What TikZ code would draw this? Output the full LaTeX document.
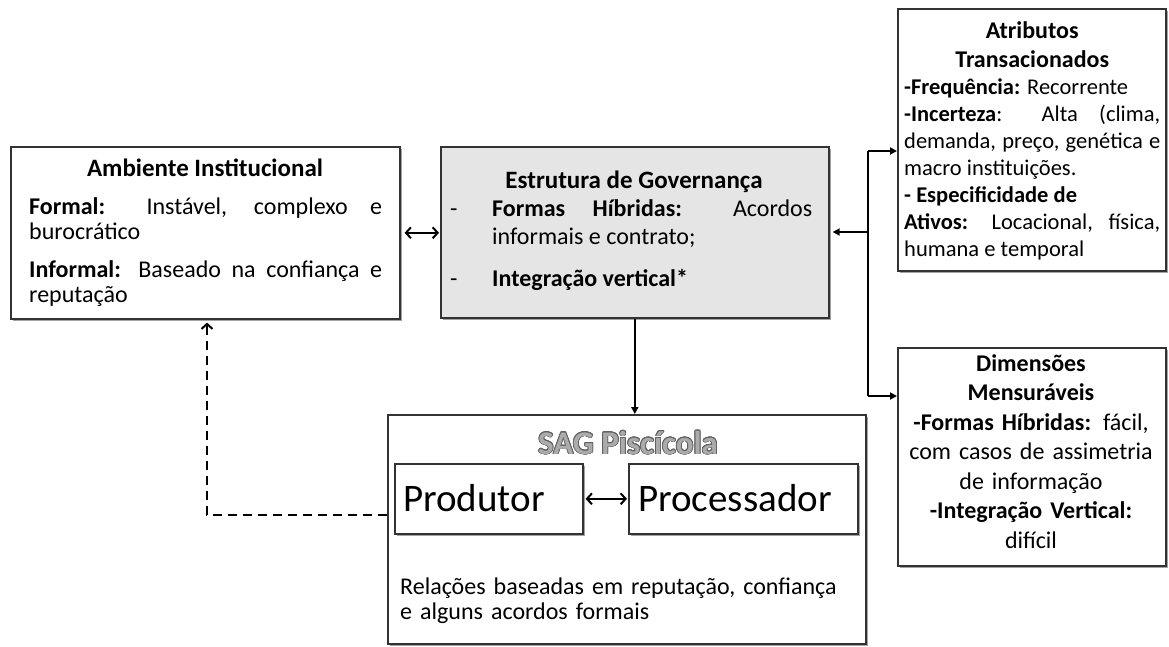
\documentclass[tikz,border=0pt]{standalone}
\usepackage{fontspec}
\setmainfont{Carlito}
\usepackage{contour}
\contourlength{0.8pt}
\contournumber{16}
\usetikzlibrary{shadows,arrows.meta}
\begin{document}
\begin{tikzpicture}[x=1pt,y=-1pt,
  box/.style={draw=black!80, line width=1.6pt, fill=white, anchor=north west, inner sep=0pt,
    drop shadow={shadow xshift=2.5pt, shadow yshift=-2.5pt, fill=black!60, opacity=0.6}},
  txt/.style={inner sep=0pt, font=\fontsize{24}{25}\selectfont},
  ttl/.style={inner sep=0pt, font=\bfseries\fontsize{25}{26}\selectfont},
  dbl/.style={line width=2pt, arrows={Straight Barb[length=5pt,width=11pt]-Straight Barb[length=5pt,width=11pt]}},
  sol/.style={line width=1.8pt, arrows={-Triangle[length=7pt,width=7pt]}},
  dsh/.style={line width=2pt, dash pattern=on 9pt off 6pt, arrows={-Straight Barb[length=5pt,width=11pt]}}
]
\useasboundingbox (0,0) rectangle (1169,646);
% boxes
\node[box, minimum width=389pt, minimum height=172pt] (amb) at (10,146) {};
\node[box, fill=black!10, minimum width=388pt, minimum height=171pt] (estr) at (440,146) {};
\node[box, minimum width=268pt, minimum height=262pt] (atr) at (897,8) {};
\node[box, minimum width=268pt, minimum height=218pt] (dim) at (897,347) {};
\node[box, minimum width=478pt, minimum height=229pt] (sag) at (387,414) {};
\node[box, minimum width=188pt, minimum height=70pt] (prod) at (394,463) {};
\node[box, minimum width=229pt, minimum height=70pt] (proc) at (628,463) {};
% Ambiente
\node[ttl] (ambt) at (205,168) {Ambiente Institucional};
\node[txt, anchor=north west, text width=353pt, align=justify] (ambb) at (29,197)
  {\textbf{Formal:} Instável, complexo e\linebreak burocrático\par\vspace{13pt}%
   \textbf{Informal:} Baseado na confiança e\linebreak reputação};
% Estrutura
\node[ttl] (estt) at (634,182) {Estrutura de Governança};
\node[txt, anchor=north west, text width=362pt, align=justify, font=\fontsize{24}{28}\selectfont] (estb) at (450,199)
  {\makebox[42pt][l]{-}\hangindent=42pt\hangafter=1\relax\textbf{Formas Híbridas:} Acordos\linebreak informais e contrato;\par\vspace{14pt}%
   \makebox[42pt][l]{-}\textbf{Integração vertical*}};
% Atributos
\node[txt, anchor=north west, text width=256pt, align=justify, font=\fontsize{22.5}{27}\selectfont] (atrb) at (904,21)
  {{\centering\bfseries\fontsize{24}{29}\selectfont Atributos\\Transacionados\par}
   \spaceskip=0.23em plus 0.4em minus 0.12em
   \textbf{-Frequência:} Recorrente\par
   \textbf{-Incerteza}: Alta (clima,\linebreak demanda, preço, genética e\linebreak macro instituições.\par
   \textbf{- Especificidade de}\par
   \textbf{Ativos:} Locacional, física,\linebreak humana e temporal};
% Dimensoes
\node[txt, anchor=north, text width=260pt, align=center, font=\fontsize{24}{29.5}\selectfont] (dimb) at (1031,354)
  {\textbf{Dimensões}\\\textbf{Mensuráveis}\\\textbf{-Formas Híbridas:} fácil,\\com casos de assimetria\\de informação\\\textbf{-Integração Vertical:}\\difícil};
% SAG
\node[txt, font=\bfseries\fontsize{33}{36}\selectfont] (sagt) at (628,443) {\contour{black!62}{\textcolor{black!33}{SAG Piscícola}}};
\node[txt, anchor=west, font=\fontsize{39}{44}\selectfont] (prodt) at (403,498) {Produtor};
\node[txt, anchor=west, font=\fontsize{39}{44}\selectfont] (proct) at (638,498) {Processador};
\node[txt, anchor=north west, text width=450pt, align=left] (rel) at (400,578)
  {Relações baseadas em reputação, confiança\\e alguns acordos formais};
% connectors
\draw[dbl, shorten <=4pt, shorten >=1pt] (amb.east) -- (amb.east -| estr.west);
\draw[sol] (estr.south) -- (estr.south |- sag.north);
\draw[dbl, shorten <=2pt, shorten >=1pt] (prod.east) -- (prod.east -| proc.west);
\coordinate (j1) at (868,151);
\coordinate (j0) at (868,232);
\coordinate (j2) at (868,396);
\draw[line width=1.8pt] (j1) -- (j2);
\draw[sol] (j1) -- (j1 -| atr.west);
\draw[sol] (j2) -- (j2 -| dim.west);
\draw[sol, shorten >=3pt] (j0) -- (j0 -| estr.east);
\coordinate (dc) at (207,515);
\draw[dsh, shorten >=3pt] (sag.west |- dc) -- (dc) -- (dc |- amb.south);
\end{tikzpicture}
\end{document}
